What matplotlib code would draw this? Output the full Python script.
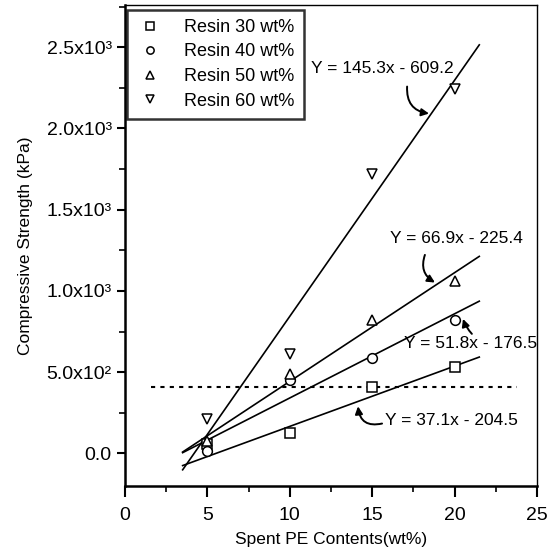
import numpy as np
import matplotlib
matplotlib.use('Agg')
import matplotlib.pyplot as plt
from matplotlib.ticker import MultipleLocator, FixedLocator

plt.rcParams['font.family'] = ['Liberation Sans', 'DejaVu Sans']

# data
pe_content = [5, 10, 15, 20]
resin30 = [60, 123, 411, 534]
resin40 = [15, 454, 589, 822]
resin50 = [75, 491, 822, 1061]
resin60 = [210, 613, 1718, 2245]

# fitted lines (slope, intercept) as printed on the chart
fits = [(37.1, -204.5), (51.8, -176.5), (66.9, -225.4), (145.3, -609.2)]
fit_range = [3.5, 21.5]
limit_value = 411
limit_range = [1.6, 23.8]

y_ticks = [0, 500, 1000, 1500, 2000, 2500]
y_ticklabels = ['0.0', '5.0x10²', '1.0x10³', '1.5x10³', '2.0x10³', '2.5x10³']

# equation label text, its centre, and the arrow start/end
eq_labels = ['Y = 145.3x - 609.2', 'Y = 66.9x - 225.4',
             'Y = 51.8x - 176.5', 'Y = 37.1x - 204.5']
eq_pos = [(15.6, 2368), (20.1, 1325), (21.0, 675), (19.8, 202)]
eq_arrow_from = [(17.12, 2258), (18.2, 1222), (21.05, 736), (15.6, 184)]
eq_arrow_to = [(18.45, 2092), (18.81, 1052), (20.51, 828), (14.14, 290)]
eq_rad = [0.45, 0.4, -0.1, -0.55]

fig = plt.figure(figsize=(5.53, 5.56), dpi=100)
ax = fig.add_axes([0.226, 0.126, 0.745, 0.865])

mk = dict(ls='none', mfc='white', mec='black', mew=1.1, ms=7)
ax.plot(pe_content, resin30, marker='s', label='Resin 30 wt%', **mk)
ax.plot(pe_content, resin40, marker='o', label='Resin 40 wt%', **mk)
ax.plot(pe_content, resin50, marker='^', label='Resin 50 wt%', **mk)
ax.plot(pe_content, resin60, marker='v', label='Resin 60 wt%', **mk)

xs = np.array(fit_range)
for slope, icpt in fits:
    ax.plot(xs, slope * xs + icpt, color='black', lw=1.2, zorder=1)

ax.plot(limit_range, [limit_value, limit_value], color='black', lw=1.5,
        ls=(0, (2, 2.5)), zorder=1)

for txt, pos, a0, a1, rad in zip(eq_labels, eq_pos, eq_arrow_from,
                                 eq_arrow_to, eq_rad):
    ax.text(pos[0], pos[1], txt, ha='center', va='center', fontsize=12.5)
    ax.annotate('', xy=a1, xytext=a0,
                arrowprops=dict(arrowstyle='-|>', color='black', lw=1.4,
                                mutation_scale=11, shrinkA=0, shrinkB=0,
                                connectionstyle='arc3,rad=%s' % rad))

ax.set_xlim(0, 25)
ax.set_ylim(-200, 2760)
ax.xaxis.set_major_locator(MultipleLocator(5))
ax.xaxis.set_minor_locator(MultipleLocator(2.5))
ax.yaxis.set_major_locator(FixedLocator(y_ticks))
ax.set_yticklabels(y_ticklabels)
ax.yaxis.set_minor_locator(MultipleLocator(250))
ax.tick_params(which='major', direction='out', length=6, width=1.5,
               labelsize=14, top=False, right=False)
ax.tick_params(axis='x', which='major', length=8, pad=7)
ax.tick_params(which='minor', direction='out', length=4, width=1.2,
               top=False, right=False)
for s in ax.spines.values():
    s.set_linewidth(1.0)
ax.spines['left'].set_linewidth(1.8)
ax.spines['bottom'].set_linewidth(1.8)

ax.set_xlabel('Spent PE Contents(wt%)', fontsize=12.5, labelpad=6)
ax.set_ylabel('Compressive Strength (kPa)', fontsize=12.5, labelpad=10)

leg = ax.legend(loc='upper left', bbox_to_anchor=(0.004, 0.99), fontsize=13,
                frameon=True, fancybox=False, edgecolor='black',
                handletextpad=1.1, labelspacing=0.42, borderpad=0.5,
                borderaxespad=0, markerscale=0.75, handlelength=1.6)
leg.get_frame().set_linewidth(1.8)

fig.savefig('out.png', dpi=100)
